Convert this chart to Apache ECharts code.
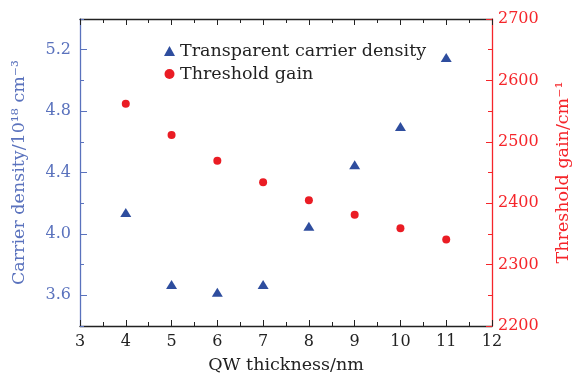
<!DOCTYPE html>
<html>
<head>
<meta charset="utf-8">
<script src="https://cdn.jsdelivr.net/npm/echarts@6/dist/echarts.min.js"></script>
<style>html,body{margin:0;padding:0;background:#fff}#c{width:580px;height:380px}</style>
</head>
<body>
<div id="c"></div>
<script>
const thickness = [4, 5, 6, 7, 8, 9, 10, 11];
const carrierDensity = [4.14, 3.67, 3.62, 3.67, 4.05, 4.45, 4.70, 5.15];
const thresholdGain = [2562, 2511, 2469, 2434, 2405, 2381, 2359, 2341];
const leftTicks = [3.6, 4.0, 4.4, 4.8, 5.2];

const FONT = 'DejaVu Serif';
const BLUE_AXIS = '#5a72bd';
const BLUE_MARK = '#2e4d9e';
const RED_AXIS = '#f5252a';
const RED_MARK = '#ea1c24';
const TICK_FS = 16;
const TEXT_FS = 17.5;

const chart = echarts.init(document.getElementById('c'), null, {renderer: 'canvas'});
chart.setOption({
  animation: false,
  textStyle: {fontFamily: FONT},
  grid: {left: 80, right: 83, top: 19, bottom: 54, containLabel: false},
  legend: {
    orient: 'vertical', left: 159, top: 37, itemGap: 5,
    itemWidth: 11, itemHeight: 10,
    textStyle: {fontFamily: FONT, fontSize: TEXT_FS, color: '#222'},
    data: [
      {name: 'Transparent carrier density', icon: 'triangle'},
      {name: 'Threshold gain', icon: 'circle'}
    ]
  },
  xAxis: [{
    type: 'value', min: 3, max: 12, interval: 1, position: 'bottom',
    name: 'QW thickness/nm', nameLocation: 'middle', nameGap: 30,
    nameTextStyle: {fontFamily: FONT, fontSize: TEXT_FS, color: '#222'},
    axisLine: {lineStyle: {color: '#222', width: 1.3}},
    axisTick: {inside: true, length: 6, lineStyle: {color: '#222'}},
    minorTick: {show: true, splitNumber: 2, length: 4, lineStyle: {color: '#222'}},
    axisLabel: {fontFamily: FONT, fontSize: TICK_FS, color: '#222', margin: 8},
    splitLine: {show: false}
  }, {
    type: 'value', min: 3, max: 12, interval: 1, position: 'top',
    axisLine: {lineStyle: {color: '#222', width: 1.3}},
    axisTick: {inside: true, length: 6, lineStyle: {color: '#222'}},
    minorTick: {show: true, splitNumber: 2, length: 4, lineStyle: {color: '#222'}},
    axisLabel: {show: false},
    splitLine: {show: false}
  }],
  yAxis: [{
    type: 'value', min: 3.4, max: 5.4, interval: 0.2, position: 'left',
    name: 'Carrier density/10¹⁸ cm⁻³', nameLocation: 'middle', nameGap: 52,
    nameTextStyle: {fontFamily: FONT, fontSize: TEXT_FS, color: BLUE_AXIS},
    axisLine: {show: true, lineStyle: {color: BLUE_AXIS, width: 1.3}},
    axisTick: {show: true, inside: true, length: 4, lineStyle: {color: BLUE_AXIS}},
    axisLabel: {fontFamily: FONT, fontSize: TICK_FS, color: BLUE_AXIS, margin: 9,
      customValues: leftTicks, formatter: v => v.toFixed(1)},
    splitLine: {show: false}
  }, {
    type: 'value', min: 2200, max: 2700, interval: 100, position: 'right',
    name: 'Threshold gain/cm⁻¹', nameLocation: 'middle', nameGap: 62, nameRotate: 90,
    nameTextStyle: {fontFamily: FONT, fontSize: TEXT_FS, color: RED_AXIS},
    axisLine: {show: true, lineStyle: {color: RED_AXIS, width: 1.3}},
    axisTick: {show: true, inside: true, length: 6, lineStyle: {color: RED_AXIS}},
    minorTick: {show: true, splitNumber: 2, length: 4, lineStyle: {color: RED_AXIS}},
    axisLabel: {fontFamily: FONT, fontSize: TICK_FS, color: RED_AXIS, margin: 6,
      formatter: v => String(v)},
    splitLine: {show: false}
  }, {
    type: 'value', min: 3.4, max: 5.4, interval: 0.2, position: 'left',
    axisLine: {show: false},
    axisTick: {show: true, inside: true, length: 7, customValues: leftTicks, lineStyle: {color: BLUE_AXIS}},
    axisLabel: {show: false},
    splitLine: {show: false}
  }],
  series: [{
    name: 'Transparent carrier density', type: 'scatter', yAxisIndex: 0,
    symbol: 'triangle', symbolSize: [11, 9],
    itemStyle: {color: BLUE_MARK, opacity: 1},
    data: thickness.map((x, i) => [x, carrierDensity[i]])
  }, {
    name: 'Threshold gain', type: 'scatter', yAxisIndex: 1,
    symbol: 'circle', symbolSize: 8,
    itemStyle: {color: RED_MARK, opacity: 1},
    data: thickness.map((x, i) => [x, thresholdGain[i]])
  }]
});
</script>
</body>
</html>
